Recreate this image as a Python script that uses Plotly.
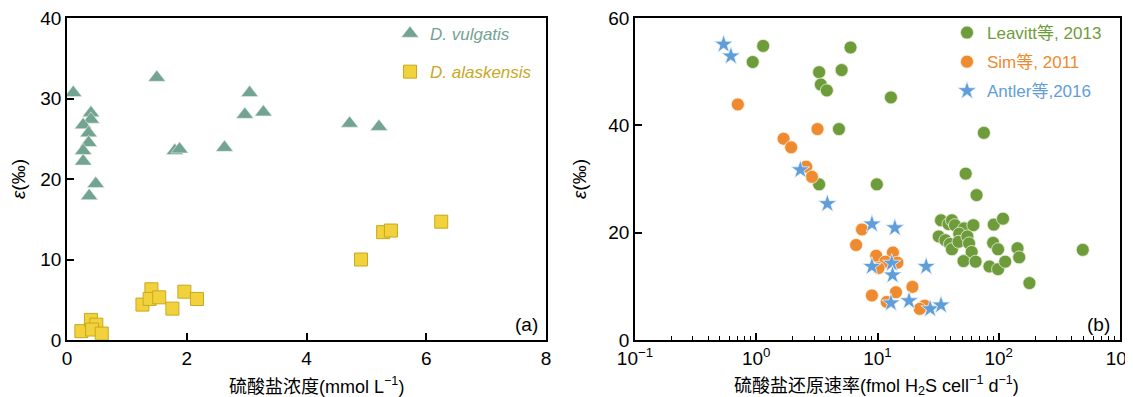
import plotly.graph_objects as go

# ---- Panel (a) data ----
vulgatis_x = [0.105, 1.50, 3.05, 2.97, 3.28, 0.40, 0.40, 0.27, 0.36, 0.36, 0.27, 0.27, 0.48, 0.37, 1.80, 1.88, 2.63, 4.72, 5.21]
vulgatis_y = [30.7, 32.6, 30.7, 28.0, 28.3, 28.2, 27.4, 26.7, 25.7, 24.5, 23.5, 22.2, 19.4, 17.9, 23.5, 23.7, 23.9, 26.9, 26.5]

alaskensis_x = [0.24, 0.40, 0.49, 0.42, 0.58, 1.26, 1.41, 1.38, 1.54, 1.76, 1.96, 2.17, 4.91, 5.28, 5.41, 6.25]
alaskensis_y = [1.1, 2.5, 1.9, 1.3, 0.8, 4.4, 6.3, 5.1, 5.3, 3.9, 6.0, 5.1, 10.0, 13.4, 13.6, 14.7]

# ---- Panel (b) data ----
leavitt_x = [1.14, 0.935, 5.99, 3.30, 5.06, 3.41, 3.82, 12.9, 4.81, 3.30, 9.87, 75.4, 53.4, 65.6,
             33.4, 38.5, 41.1, 43.5, 51.8, 61.7, 32.0, 36.3, 39.6, 41.1, 47.2, 46.6, 55.1, 56.9, 59.8,
             51.2, 64.4, 91.0, 108.4, 89.9, 98.7, 83.8, 98.7, 113.0, 142.8, 147.4, 179.0, 493.0]
leavitt_y = [54.8, 51.8, 54.5, 49.9, 50.3, 47.6, 46.5, 45.2, 39.3, 29.0, 29.0, 38.6, 31.0, 27.0,
             22.3, 21.6, 22.3, 21.4, 20.8, 21.4, 19.3, 18.6, 17.9, 16.9, 19.8, 18.3, 19.3, 18.0, 16.4,
             14.7, 14.6, 21.5, 22.6, 18.1, 16.9, 13.7, 13.2, 14.6, 17.1, 15.4, 10.6, 16.8]

sim_x = [0.705, 3.20, 1.68, 1.94, 2.58, 2.88, 7.45, 6.66, 9.76, 13.4, 14.6, 11.6, 10.2, 8.99, 19.4, 14.2, 11.9, 24.5, 22.3]
sim_y = [43.9, 39.3, 37.5, 35.9, 32.3, 30.4, 20.6, 17.7, 15.7, 16.3, 14.4, 14.6, 13.4, 8.3, 9.9, 8.9, 7.1, 6.4, 5.8]

antler_x = [0.538, 0.618, 2.31, 3.86, 9.0, 13.9, 8.99, 13.1, 13.3, 25.2, 12.9, 18.2, 27.2, 33.4]
antler_y = [55.1, 52.9, 31.7, 25.4, 21.6, 20.9, 13.7, 14.3, 12.1, 13.7, 6.9, 7.3, 5.8, 6.5]

log_tickvals = [0.1, 1, 10, 100, 1000]
log_ticktext = ["10<sup>\u22121</sup>", "10<sup>0</sup>", "10<sup>1</sup>", "10<sup>2</sup>", "10<sup>3</sup>"]
minor_vals = [m * d for d in [0.1, 1, 10, 100] for m in range(2, 10)]

xtitle_a = "硫酸盐浓度(mmol L<sup>\u22121</sup>)"
xtitle_b = "硫酸盐还原速率(fmol H<sub>2</sub>S cell<sup>\u22121</sup> d<sup>\u22121</sup>)"
ytitle = "<i>ε</i>(‰)"

C_TEAL = "#73a391"
C_GOLD = "#f2d23c"
C_GOLD_TXT = "#c9a81e"
C_GREEN = "#6f9c3a"
C_ORANGE = "#ee8a30"
C_BLUE = "#5f9ed8"

FONT = "Liberation Sans, Arial, Noto Sans CJK SC, sans-serif"

fig = go.Figure()

fig.add_trace(go.Scatter(
    x=vulgatis_x, y=vulgatis_y, mode="markers", xaxis="x", yaxis="y",
    name="<span style='color:%s'><i>D. vulgatis</i></span>" % C_TEAL,
    legend="legend", legendgroup="a1",
    marker=dict(symbol="triangle-up", size=15, color=C_TEAL, line=dict(width=0.6, color="#e8f0ec"))))
fig.add_trace(go.Scatter(
    x=alaskensis_x, y=alaskensis_y, mode="markers", xaxis="x", yaxis="y",
    name="<span style='color:%s'><i>D. alaskensis</i></span>" % C_GOLD_TXT,
    legend="legend", legendgroup="a2",
    marker=dict(symbol="square", size=13, color=C_GOLD, line=dict(width=1, color="#c9a81e"))))

fig.add_trace(go.Scatter(
    x=leavitt_x, y=leavitt_y, mode="markers", xaxis="x2", yaxis="y2",
    name="<span style='color:%s'>Leavitt等, 2013</span>" % C_GREEN,
    legend="legend2", legendgroup="b1",
    marker=dict(symbol="circle", size=13, color=C_GREEN, line=dict(width=0.8, color="#e8f0e0"))))
fig.add_trace(go.Scatter(
    x=sim_x, y=sim_y, mode="markers", xaxis="x2", yaxis="y2",
    name="<span style='color:%s'>Sim等, 2011</span>" % C_ORANGE,
    legend="legend2", legendgroup="b2",
    marker=dict(symbol="circle", size=13, color=C_ORANGE, line=dict(width=0.8, color="#fff0e0"))))
fig.add_trace(go.Scatter(
    x=antler_x, y=antler_y, mode="markers", xaxis="x2", yaxis="y2",
    name="<span style='color:%s'>Antler等,2016</span>" % C_BLUE,
    legend="legend2", legendgroup="b3",
    marker=dict(symbol="star", size=14, color=C_BLUE, line=dict(width=0.8, color="#e8f2fc"))))

# the page body adds an 8 px margin, so the figure is drawn 8 px smaller and
# positions are given in window pixels minus that offset
OFF = 8
W, H = 1133 - OFF, 397 - OFF


def px(x):
    return (x - OFF) / W


def py(y):
    return (H - (y - OFF)) / H


yd = [py(340), py(18)]

axis_common = dict(showline=True, linecolor="black", linewidth=1.6, mirror=True,
                   ticks="inside", ticklen=7, tickwidth=1.6, tickcolor="black",
                   showgrid=False, zeroline=False, automargin=False,
                   ticklabeloverflow="allow",
                   tickfont=dict(size=19, color="black", family=FONT))

fig.update_layout(
    width=W, height=H,
    margin=dict(l=0, r=0, t=0, b=0, autoexpand=False),
    paper_bgcolor="white", plot_bgcolor="white",
    font=dict(family=FONT, color="black"),
    showlegend=True,
    xaxis=dict(domain=[px(67), px(546)], range=[0, 8], dtick=2, anchor="y", **axis_common),
    yaxis=dict(domain=yd, range=[0, 40], dtick=10, anchor="x",
               title=dict(text=ytitle, font=dict(size=19), standoff=13),
               **axis_common),
    xaxis2=dict(domain=[px(635), px(1120)], type="log", range=[-1, 3], anchor="y2",
                tickvals=log_tickvals, ticktext=log_ticktext,
                minor=dict(tickvals=minor_vals, ticks="inside", ticklen=4, tickwidth=1.2, tickcolor="black"),
                **axis_common),
    yaxis2=dict(domain=yd, range=[0, 60], tickvals=[0, 20, 40, 60], anchor="x2",
                title=dict(text=ytitle, font=dict(size=19), standoff=17),
                **axis_common),
    legend=dict(x=px(390), y=py(16), xanchor="left", yanchor="top",
                bgcolor="rgba(0,0,0,0)", font=dict(size=17, family=FONT),
                tracegroupgap=13, itemwidth=30),
    legend2=dict(x=px(947), y=py(15), xanchor="left", yanchor="top",
                 bgcolor="rgba(0,0,0,0)", font=dict(size=17, family=FONT),
                 tracegroupgap=4, itemwidth=30),
    annotations=[
        dict(text="(a)", x=px(540), y=py(324), xref="paper", yref="paper",
             xanchor="right", yanchor="middle", showarrow=False, font=dict(size=19, color="black")),
        dict(text="(b)", x=px(1112), y=py(324), xref="paper", yref="paper",
             xanchor="right", yanchor="middle", showarrow=False, font=dict(size=19, color="black")),
        dict(text=xtitle_a, x=px(316), y=py(385), xref="paper", yref="paper",
             xanchor="center", yanchor="middle", showarrow=False, font=dict(size=18, color="black")),
        dict(text=xtitle_b, x=px(876), y=py(385), xref="paper", yref="paper",
             xanchor="center", yanchor="middle", showarrow=False, font=dict(size=18, color="black")),
    ],
)

fig.write_html("out.html")
